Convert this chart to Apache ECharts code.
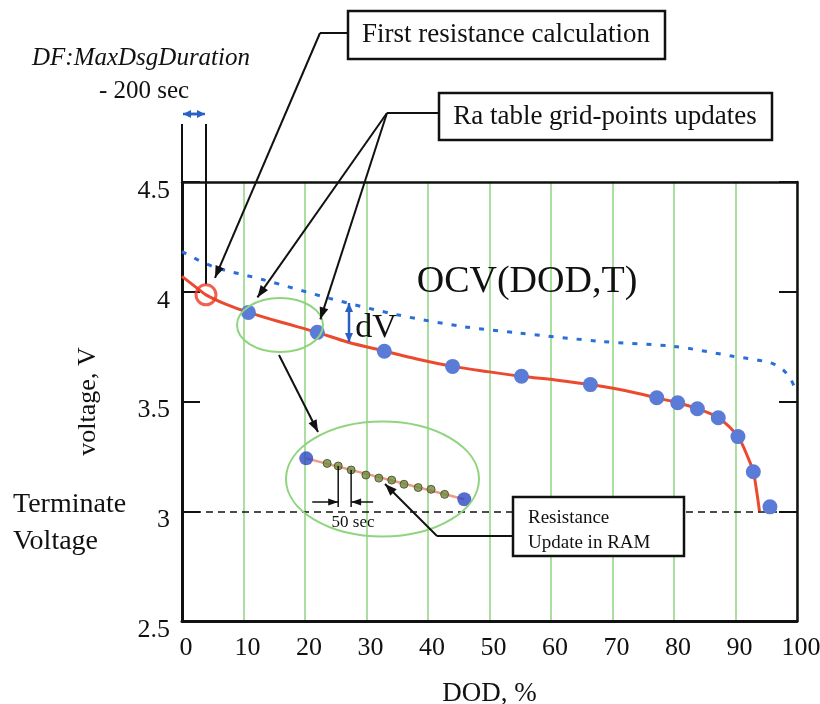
<!DOCTYPE html>
<html><head><meta charset="utf-8">
<script src="https://cdn.jsdelivr.net/npm/echarts@6.0.0/dist/echarts.min.js"></script>
<style>html,body{margin:0;padding:0;background:#fff}#c{width:820px;height:704px}</style>
</head><body><div id="c"></div>
<script>
// ---- data ----
const dodTicks = [0, 10, 20, 30, 40, 50, 60, 70, 80, 90, 100];
const voltTicks = [2.5, 3, 3.5, 4, 4.5];
// terminal voltage under load (red curve)
const termDod = [0, 2.3, 3.9, 7, 10.8, 16, 22, 27, 33, 38, 44, 50, 55.2, 61, 66.4, 72, 77.2, 80.6, 83.8, 87.2, 90.4, 92.1, 92.9, 93.5, 93.9];
const termV   = [4.07, 4.02, 3.986, 3.945, 3.906, 3.862, 3.815, 3.77, 3.729, 3.695, 3.66, 3.635, 3.615, 3.597, 3.577, 3.55, 3.517, 3.494, 3.467, 3.426, 3.34, 3.24, 3.18, 3.08, 3.0];
// Ra table grid-point updates (blue dots)
const raDod = [10.8, 22.0, 32.9, 44.0, 55.2, 66.4, 77.2, 80.6, 83.8, 87.2, 90.4, 92.9, 95.6];
const raV   = [3.906, 3.815, 3.729, 3.66, 3.615, 3.577, 3.517, 3.494, 3.467, 3.426, 3.34, 3.18, 3.02];
// OCV(DOD,T) (blue dotted)
const ocvDod = [0, 5, 13.2, 24, 35, 46, 54.5, 68, 80, 89.6, 95.6, 97.7, 99, 100];
const ocvV   = [4.183, 4.115, 4.055, 3.97, 3.895, 3.84, 3.813, 3.774, 3.751, 3.706, 3.677, 3.645, 3.6, 3.54];
// first resistance calculation point
const firstCalcDod = [3.9];
const firstCalcV = [3.986];
// terminate voltage
const terminateV = 3.0;
// zoomed inset: grid points and 50 s resistance updates
const insetEndDod = [20.2, 45.9];
const insetEndV = [3.241, 3.055];
const insetDod = [23.6, 25.4, 27.5, 29.9, 32.0, 34.1, 36.1, 38.4, 40.5, 42.7];
const insetV   = [3.218, 3.206, 3.188, 3.165, 3.151, 3.142, 3.123, 3.108, 3.100, 3.077];

const FONT = 'Liberation Serif';
const INK = '#111';
const zip = (a, b) => a.map((x, i) => [x, b[i]]);

const chart = echarts.init(document.getElementById('c'), null, {renderer: 'canvas'});

const option = {
  animation: false,
  backgroundColor: '#fff',
  grid: {left: 182, right: 23, top: 182, bottom: 83, containLabel: false, outerBoundsMode: 'none'},
  xAxis: [{
    type: 'value', min: dodTicks[0], max: dodTicks[dodTicks.length - 1], interval: 10,
    axisLine: {show: true, onZero: false, lineStyle: {color: INK, width: 3}},
    axisTick: {show: false},
    splitLine: {show: true, lineStyle: {color: '#8fd47f', width: 1.5}},
    axisLabel: {
      color: INK, margin: 14,
      formatter: v => '{a|' + v + '}',
      rich: {a: {fontFamily: FONT, fontSize: 26, color: INK, padding: [0, 0, 0, 8]}}
    },
    name: 'DOD, %', nameLocation: 'middle', nameGap: 59, nameMoveOverlap: false,
    nameTextStyle: {fontFamily: FONT, fontSize: 27, color: INK}
  }, {
    type: 'value', position: 'top', min: 0, max: 100,
    axisLine: {show: true, onZero: false, lineStyle: {color: INK, width: 2.5}},
    axisTick: {show: false}, axisLabel: {show: false}, splitLine: {show: false}
  }],
  yAxis: [{
    type: 'value', min: voltTicks[0], max: voltTicks[voltTicks.length - 1], interval: 0.5,
    axisLine: {show: true, onZero: false, lineStyle: {color: INK, width: 3}},
    axisTick: {show: true, inside: true, length: 18, lineStyle: {color: INK, width: 2}},
    splitLine: {show: false},
    axisLabel: {
      color: INK, margin: 12,
      formatter: v => '{a|' + v + '}',
      rich: {a: {fontFamily: FONT, fontSize: 26, color: INK, padding: [18, 0, 0, 0]}}
    },
    name: 'voltage, V', nameLocation: 'middle', nameGap: 81, nameRotate: 90, nameMoveOverlap: false,
    nameTextStyle: {fontFamily: FONT, fontSize: 26, color: INK}
  }, {
    type: 'value', position: 'right', min: 2.5, max: 4.5, interval: 0.5,
    axisLine: {show: true, onZero: false, lineStyle: {color: INK, width: 2.5}},
    axisTick: {show: true, inside: true, length: 18, lineStyle: {color: INK, width: 2}},
    axisLabel: {show: false}, splitLine: {show: false}
  }],
  series: [
    {
      name: 'OCV', type: 'line', data: zip(ocvDod, ocvV), smooth: 0.3, symbol: 'none', silent: true,
      lineStyle: {color: '#2a6fd8', width: 3, type: [5, 9]}, z: 3
    },
    {
      name: 'terminal', type: 'line', data: zip(termDod, termV), smooth: 0.3, symbol: 'none', silent: true,
      lineStyle: {color: '#ec4a2f', width: 3}, z: 4,
      markLine: {
        silent: true, symbol: 'none', label: {show: false},
        lineStyle: {color: INK, width: 1.5, type: [7, 5]},
        data: [{yAxis: terminateV}]
      }
    },
    {
      name: 'Ra grid points', type: 'scatter', data: zip(raDod, raV), symbolSize: 15, silent: true,
      itemStyle: {color: '#5a7bd6', opacity: 1}, z: 6
    },
    {
      name: 'first calc', type: 'scatter', data: zip(firstCalcDod, firstCalcV), symbol: 'circle',
      symbolSize: 20, silent: true,
      itemStyle: {color: 'rgba(255,255,255,0)', borderColor: '#ec3a28', borderWidth: 3}, z: 7
    },
    {
      name: 'inset line', type: 'line', data: zip(insetEndDod, insetEndV), symbol: 'none', silent: true,
      lineStyle: {color: '#ee9a88', width: 2.5}, z: 5
    },
    {
      name: 'inset updates', type: 'scatter', data: zip(insetDod, insetV), symbolSize: 8, silent: true,
      itemStyle: {color: '#6f8a3c', borderColor: '#3d4a22', borderWidth: 1}, z: 6
    },
    {
      name: 'inset ends', type: 'scatter', data: zip(insetEndDod, insetEndV), symbolSize: 14, silent: true,
      itemStyle: {color: '#2c47c2'}, z: 7
    }
  ]
};
chart.setOption(option);

// ---- annotations ----
const px = (d, v) => chart.convertToPixel({xAxisIndex: 0, yAxisIndex: 0}, [d, v]);
const G = [];
function line(pts, color, width) {
  G.push({type: 'polyline', silent: true, z: 20, shape: {points: pts},
    style: {stroke: color || INK, lineWidth: width || 2, fill: null}});
}
function head(x1, y1, x2, y2, color, len, w) {
  len = len || 12; w = w || 4.5;
  const a = Math.atan2(y2 - y1, x2 - x1), c = Math.cos(a), s = Math.sin(a);
  G.push({type: 'polygon', silent: true, z: 21, shape: {points: [
    [x2, y2], [x2 - len * c + w * s, y2 - len * s - w * c], [x2 - len * c - w * s, y2 - len * s + w * c]]},
    style: {fill: color || INK}});
}
function arrow(p1, p2, color, width, len, w) { line([p1, p2], color, width); head(p1[0], p1[1], p2[0], p2[1], color, len, w); }
function text(x, y, str, size, opts) {
  opts = opts || {};
  G.push({type: 'text', silent: true, z: 22, x: x, y: y,
    style: Object.assign({text: str, fontFamily: FONT, fontSize: size, fill: INK,
      align: 'center', verticalAlign: 'middle'}, opts)});
}
function box(x, y, w, h) {
  G.push({type: 'rect', silent: true, z: 19, shape: {x: x, y: y, width: w, height: h},
    style: {fill: '#fff', stroke: INK, lineWidth: 2.5}});
}
function ellipse(cx, cy, rx, ry) {
  G.push({type: 'ellipse', silent: true, z: 18, shape: {cx: cx, cy: cy, rx: rx, ry: ry},
    style: {fill: null, stroke: '#8fd47f', lineWidth: 2}});
}

const p0 = px(0, 4.5);
const pc = px(firstCalcDod[0], firstCalcV[0]);
const pr1 = px(raDod[0], raV[0]);
const pr2 = px(raDod[1], raV[1]);

// DF:MaxDsgDuration window
line([[p0[0], 124], [p0[0], p0[1]]], INK, 2);
line([[pc[0], 124], [pc[0], pc[1] - 11]], INK, 2);
arrow([p0[0] + 12, 114], [p0[0] + 1, 114], '#2860c8', 2.5, 8, 4);
arrow([pc[0] - 12, 114], [pc[0] - 1, 114], '#2860c8', 2.5, 8, 4);
line([[p0[0] + 6, 114], [pc[0] - 6, 114]], '#2860c8', 2.5);
text(141, 58, 'DF:MaxDsgDuration', 25, {fontStyle: 'italic'});
text(144, 91, '- 200 sec', 25);

// First resistance calculation
box(348, 11, 317, 48);
text(506, 35, 'First resistance calculation', 27);
line([[348, 33], [320, 33]], INK, 2);
arrow([320, 33], [pc[0] + 9, pc[1] - 17], INK, 2);

// Ra table grid-points updates
box(439, 93, 333, 47);
text(605, 117, 'Ra table grid-points updates', 27);
line([[439, 113], [387, 113]], INK, 2);
arrow([387, 113], [pr1[0] + 9, pr1[1] - 15], INK, 2);
arrow([387, 113], [pr2[0] + 3, pr2[1] - 13], INK, 2);

// OCV label and dV
text(527, 282, 'OCV(DOD,T)', 38);
text(376, 328, 'dV', 34);
arrow([349, 322], [349, 303], '#2860c8', 2.5, 9, 4);
arrow([349, 322], [349, 342], '#2860c8', 2.5, 9, 4);

// ellipses and zoom arrow
ellipse(280, 325, 43, 27);
ellipse(382.5, 479, 96.5, 57.5);
arrow([279, 355], [318, 432], INK, 2);

// 50 sec
const pa = px(insetDod[1], insetV[1]);
const pb = px(insetDod[2], insetV[2]);
line([[pa[0], pa[1]], [pa[0], 507]], INK, 1.5);
line([[pb[0], pb[1]], [pb[0], 507]], INK, 1.5);
arrow([pa[0] - 26, 502], [pa[0], 502], INK, 1.5, 10, 3.5);
arrow([pb[0] + 22, 502], [pb[0], 502], INK, 1.5, 10, 3.5);
text(353, 523, '50 sec', 17);

// Resistance update in RAM
box(513, 497, 171, 59);
text(528, 518, 'Resistance', 19, {align: 'left'});
text(528, 543, 'Update in RAM', 19, {align: 'left'});
line([[513, 536], [437, 536]], INK, 2);
arrow([437, 536], [385, 484], INK, 2);

// Terminate Voltage
text(13, 505, 'Terminate', 28, {align: 'left'});
text(13, 542, 'Voltage', 28, {align: 'left'});

chart.setOption({graphic: G});
</script>
</body></html>
